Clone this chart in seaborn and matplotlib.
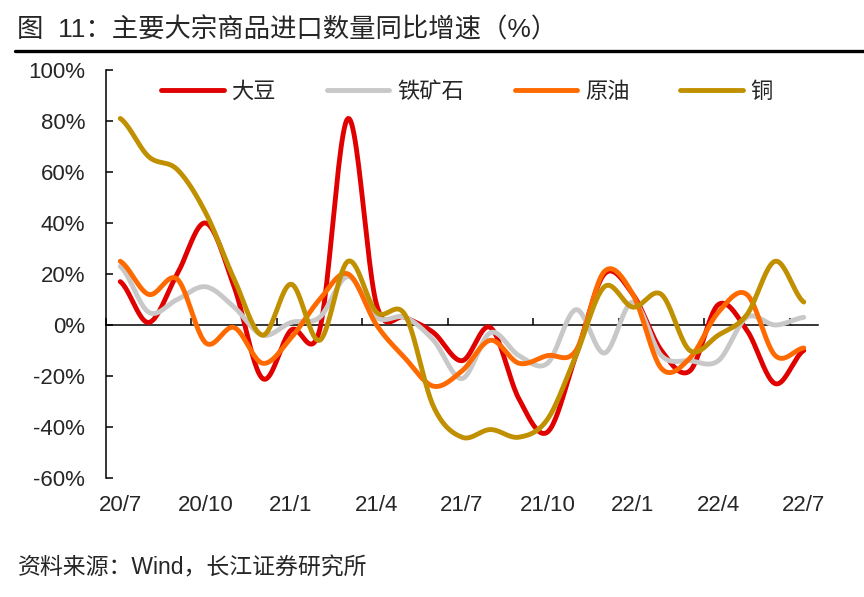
import numpy as np
import pandas as pd
import matplotlib
matplotlib.use('Agg')
import matplotlib.pyplot as plt
import seaborn as sns
from matplotlib.lines import Line2D
from matplotlib.ticker import FuncFormatter

# 月份（2020/7 - 2022/7）
months = ['20/7', '20/8', '20/9', '20/10', '20/11', '20/12', '21/1', '21/2', '21/3',
          '21/4', '21/5', '21/6', '21/7', '21/8', '21/9', '21/10', '21/11', '21/12',
          '22/1', '22/2', '22/3', '22/4', '22/5', '22/6', '22/7']

# 同比增速（%）
soybean = [17, 1, 20, 40, 15, -21, -2, -2, 81, 8, 3, -3, -14, -1, -29, -42, -12, 20,
           12, -10, -18, 8, -2, -23, -10]
iron_ore = [23, 5, 10, 15, 7, -4, 1, 3, 19, 3, 3, -6, -21, -3, -12, -15, 6, -11,
            9, -12, -14, -14, 3, 0, 3]
crude_oil = [25, 12, 18, -7, -1, -15, -5, 10, 20, 0, -13, -24, -18, -6, -15, -12, -10, 21,
             12, -17, -13, 5, 12, -12, -9]
copper = [81, 66, 61, 44, 18, -4, 16, -6, 25, 5, 4, -32, -44, -41, -44, -37, -12, 15,
          7, 12, -10, -4, 4, 25, 9]

series_names = ['大豆', '铁矿石', '原油', '铜']
series_values = [soybean, iron_ore, crude_oil, copper]
colors = ['#E00000', '#C8C8C8', '#FF6A00', '#C09000']

tick_labels = months[::3]


# Excel 风格的平滑线（Catmull-Rom）
def smooth(y, n=24):
    y = np.asarray(y, dtype=float)
    p = np.concatenate([[y[0]], y, [y[-1]]])
    xs, ys = [], []
    t = np.linspace(0, 1, n, endpoint=False)
    for i in range(len(y) - 1):
        p0, p1, p2, p3 = p[i], p[i + 1], p[i + 2], p[i + 3]
        seg = 0.5 * (2 * p1 + (-p0 + p2) * t + (2 * p0 - 5 * p1 + 4 * p2 - p3) * t ** 2
                     + (-p0 + 3 * p1 - 3 * p2 + p3) * t ** 3)
        xs.extend(i + t)
        ys.extend(seg)
    xs.append(len(y) - 1)
    ys.append(y[-1])
    return np.array(xs), np.array(ys)


frames = []
for name, vals in zip(series_names, series_values):
    sx, sy = smooth(vals)
    frames.append(pd.DataFrame({'x': sx, 'value': sy, 'series': name}))
df = pd.concat(frames, ignore_index=True)

sns.set_style('white')
plt.rcParams['font.family'] = ['Liberation Sans', 'Noto Sans CJK SC', 'DejaVu Sans']
plt.rcParams['axes.unicode_minus'] = False

fig = plt.figure(figsize=(8.64, 5.97), dpi=100)
ax = fig.add_axes([106 / 864, 1 - 478 / 597, 712 / 864, 408 / 597])

sns.lineplot(data=df, x='x', y='value', hue='series', palette=colors,
             hue_order=series_names, sort=False, estimator=None,
             linewidth=3.5, legend=False, ax=ax, solid_capstyle='round')

ax.set_xlim(-0.5, len(months) - 0.5)
ax.set_ylim(-60, 100)
ax.set_yticks(np.arange(-60, 101, 20))
ax.yaxis.set_major_formatter(FuncFormatter(lambda v, pos: '%d%%' % v))
ax.set_xlabel('')
ax.set_ylabel('')

# 坐标轴样式
for s in ['top', 'right']:
    ax.spines[s].set_visible(False)
ax.spines['left'].set_color('black')
ax.spines['left'].set_linewidth(1.1)
ax.spines['bottom'].set_position(('data', 0))
ax.spines['bottom'].set_color('black')
ax.spines['bottom'].set_linewidth(1.1)
ax.spines['bottom'].set_zorder(1)

ax.set_xticks(np.arange(-0.5, len(months), 3))
ax.tick_params(axis='x', direction='in', length=5, width=1.1, color='black',
               labelbottom=False, bottom=True)
ax.tick_params(axis='y', direction='in', length=5, width=1.1, color='black',
               labelsize=16, pad=15, left=True)

# 底部的日期标签
sec = ax.secondary_xaxis('bottom')
sec.set_xticks(np.arange(0, len(months), 3))
sec.set_xticklabels(tick_labels)
sec.tick_params(axis='x', length=0, labelsize=16, pad=12)
sec.spines['bottom'].set_visible(False)

# 图例
handles = [Line2D([0], [0], color=c, linewidth=3.5, solid_capstyle='round') for c in colors]
ax.legend(handles, series_names, ncol=4, frameon=False, loc='center',
          bbox_to_anchor=(0.507, 0.946), fontsize=16, handlelength=2.8,
          handletextpad=0.35, columnspacing=2.3)

# 标题与来源
fig.text(17 / 864, 1 - 30 / 597, '图  11：主要大宗商品进口数量同比增速（%）',
         fontsize=19, va='center', ha='left')
fig.add_artist(Line2D([15 / 864, 1.0], [1 - 51 / 597, 1 - 51 / 597],
                      color='black', linewidth=2.4, transform=fig.transFigure))
fig.text(18 / 864, 1 - 568 / 597, '资料来源：Wind，长江证券研究所',
         fontsize=16.5, va='center', ha='left')

fig.savefig('out.png', dpi=100)
